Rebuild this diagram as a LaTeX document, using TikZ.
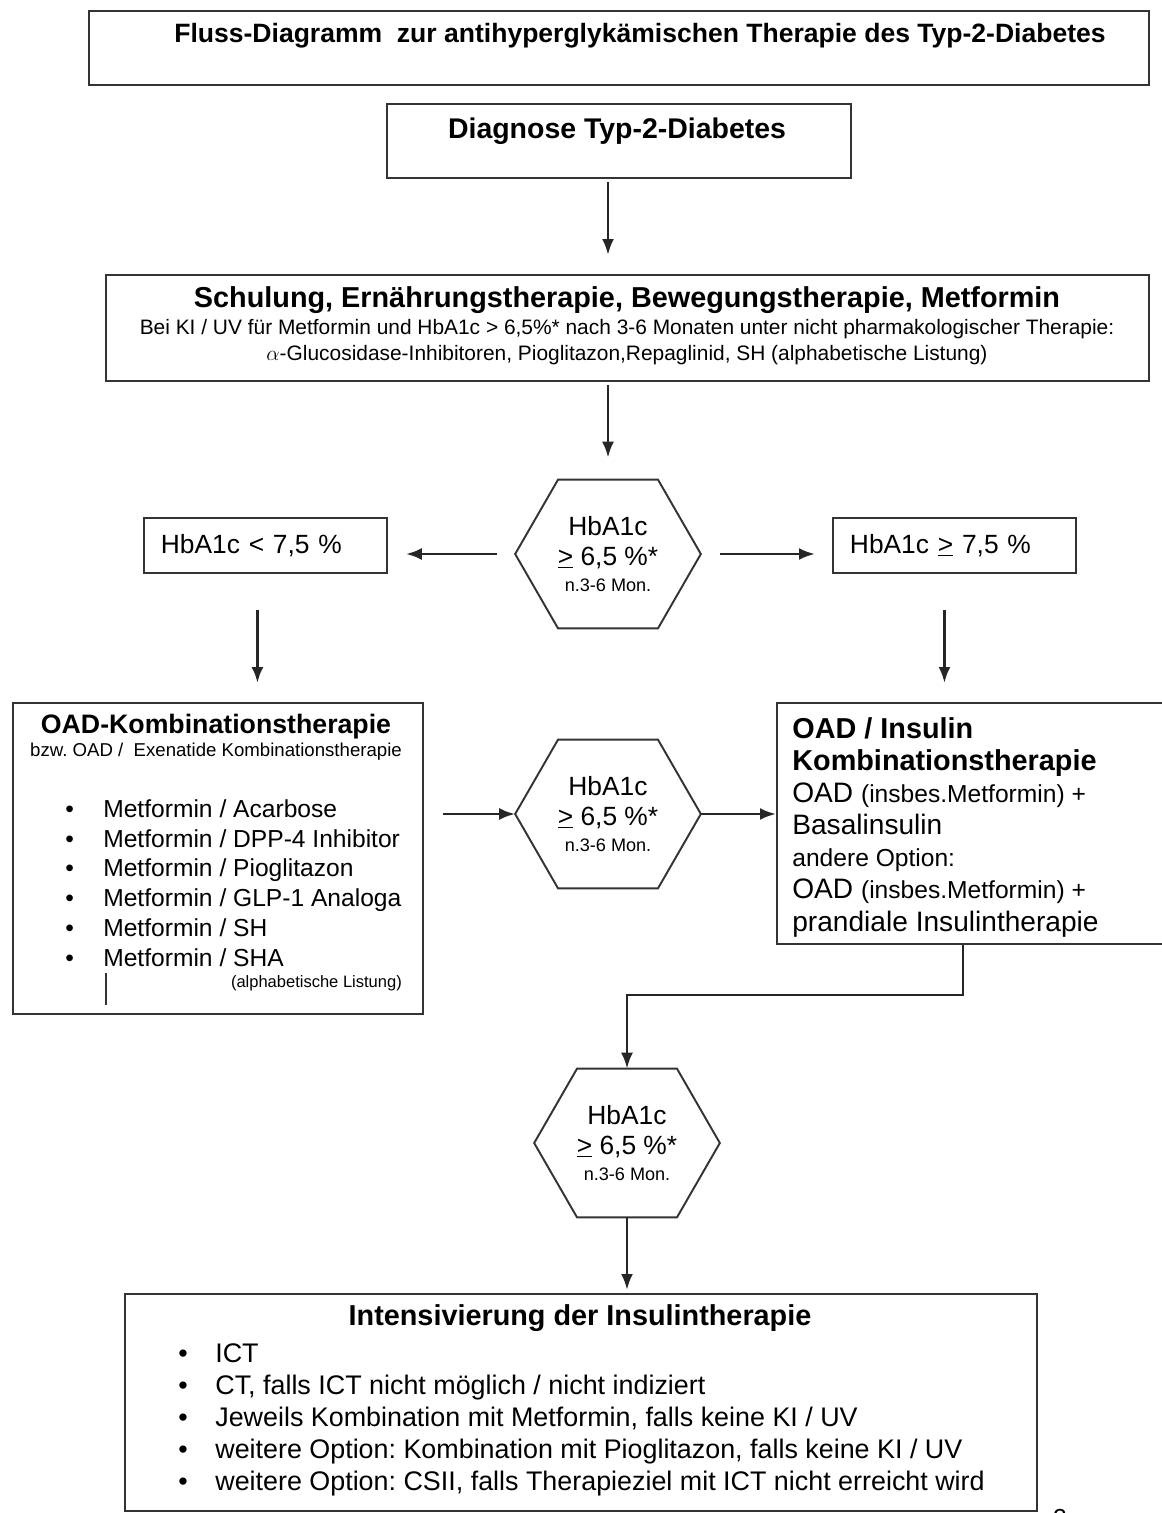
\documentclass[tikz,border=0pt]{standalone}
\usepackage{fontspec}
\setmainfont{Liberation Sans}
\usetikzlibrary{arrows.meta}
\frenchspacing

% font size shortcut
\newcommand{\fsize}[2]{\fontsize{#1}{#2}\selectfont}
% six-sided frame round a hexagon node
\newcommand{\hexframe}[1]{%
  \draw[frame] (#1.west) -- ([xshift=-1cm]#1.north) -- ([xshift=1cm]#1.north)
    -- (#1.east) -- ([xshift=1cm]#1.south) -- ([xshift=-1cm]#1.south) -- cycle;}
\newcommand{\bul}[1]{\makebox[#1][l]{\textbullet}}

\begin{document}
\begin{tikzpicture}[x=0.02cm, y=-0.02cm,
  frame/.style={draw=black!80, line width=1.1pt},
  box/.style={frame, anchor=north west, inner sep=0pt},
  hexbox/.style={minimum width=3.7cm, minimum height=2.96cm, inner sep=0pt,
    align=center, font=\fsize{15}{17}},
  arrow/.style={line width=1.6pt, draw=black!85, -{Latex[length=3.2mm,width=2.4mm]}},
  smallbox/.style={box, minimum width=4.86cm, minimum height=1.1cm,
    text width=4.18cm, inner xsep=0.34cm, align=left, font=\fsize{15}{18}}
]
\useasboundingbox (0,0) rectangle (1161,1513);

% Title
\node[box, minimum width=21.2cm, minimum height=1.48cm] (titlebox) at (88,10) {};
\node[font=\bfseries\fsize{15.1}{18}] (titletext) at (640,36)
  {Fluss-Diagramm\ \ zur antihyperglykämischen Therapie des Typ-2-Diabetes};

% Diagnose
\node[box, minimum width=9.28cm, minimum height=1.48cm] (diagbox) at (386,103) {};
\node[font=\bfseries\fsize{16.2}{19}] (diagtext) at (617,131) {Diagnose Typ-2-Diabetes};

% Basistherapie
\node[box, minimum width=20.86cm, minimum height=2.12cm] (schulbox) at (105,274) {};
\node[font=\bfseries\fsize{16.4}{20}] (schulhead) at (627,300)
  {Schulung, Ernährungstherapie, Bewegungstherapie, Metformin};
\node[font=\fsize{11.9}{14.8}, align=center] (schulsub) at (627,342)
  {Bei KI / UV für Metformin und HbA1c > 6,5\%* nach 3-6 Monaten unter nicht pharmakologischer Therapie:\\
   $\alpha$-Glucosidase-Inhibitoren, Pioglitazon,Repaglinid, SH (alphabetische Listung)};

% first HbA1c check
\node[hexbox] (hexa) at (608,554)
  {HbA1c\\\underline{>} 6,5 \%*\\[-2pt]{\fsize{10.3}{12}n.3-6 Mon.}};
\hexframe{hexa}

\node[smallbox] (lowbox) at (143,517) {HbA1c < 7,5 \%};
\node[smallbox] (highbox) at (832,517) {HbA1c \underline{>} 7,5 \%};

% OAD combination
\node[box, minimum width=8.2cm, minimum height=6.22cm] (oadbox) at (12,702) {};
\node[font=\bfseries\fsize{15.2}{18}] (oadtitle) at (216,727) {OAD-Kombinationstherapie};
\node[font=\fsize{10.6}{13}] (oadsub) at (216,752) {bzw. OAD /\ \ Exenatide Kombinationstherapie};
\node[anchor=north west, inner sep=0pt, align=left, font=\fsize{14}{17}] (oadlist) at (65,799)
  {\bul{0.76cm}Metformin / Acarbose\\
   \bul{0.76cm}Metformin / DPP-4 Inhibitor\\
   \bul{0.76cm}Metformin / Pioglitazon\\
   \bul{0.76cm}Metformin / GLP-1 Analoga\\
   \bul{0.76cm}Metformin / SH\\
   \bul{0.76cm}Metformin / SHA};
\node[anchor=east, font=\fsize{9.4}{11}] (oadnote) at (408,983) {(alphabetische Listung)};
\draw[line width=1pt, black!80] (106,973) -- (106,1005);

% second HbA1c check
\node[hexbox] (hexb) at (608,814)
  {HbA1c\\\underline{>} 6,5 \%*\\[-2pt]{\fsize{10.3}{12}n.3-6 Mon.}};
\hexframe{hexb}

% OAD / Insulin
\node[box, minimum width=8cm, minimum height=4.82cm] (rbox) at (776,702) {};
\node[anchor=north west, inner sep=0pt, align=left, font=\fsize{16}{18.3}] (rtext) at (792,717)
  {{\bfseries\fsize{16.4}{18.3}OAD / Insulin}\\
   {\bfseries\fsize{16.4}{18.3}Kombinationstherapie}\\
   OAD {\fsize{14}{18.3}(insbes.Metformin) +}\\
   Basalinsulin\\
   {\fsize{14}{18.3}andere Option:}\\
   OAD {\fsize{14}{18.3}(insbes.Metformin) +}\\
   prandiale Insulintherapie};

% third HbA1c check
\node[hexbox] (hexc) at (627,1143)
  {HbA1c\\\underline{>} 6,5 \%*\\[-2pt]{\fsize{10.3}{12}n.3-6 Mon.}};
\hexframe{hexc}
\coordinate (elbow) at (963,995);

% Intensivierung
\node[box, minimum width=18.24cm, minimum height=4.34cm] (endbox) at (124,1293) {};
\node[font=\bfseries\fsize{16.4}{20}] (endtitle) at (580,1318) {Intensivierung der Insulintherapie};
\node[anchor=north west, inner sep=0pt, align=left, font=\fsize{15.3}{18.3}] (endlist) at (178,1343)
  {\bul{0.74cm}ICT\\
   \bul{0.74cm}CT, falls ICT nicht möglich / nicht indiziert\\
   \bul{0.74cm}Jeweils Kombination mit Metformin, falls keine KI / UV\\
   \bul{0.74cm}weitere Option: Kombination mit Pioglitazon, falls keine KI / UV\\
   \bul{0.74cm}weitere Option: CSII, falls Therapieziel mit ICT nicht erreicht wird};
\node[anchor=north, font=\fsize{14}{16}] (pagenum) at (1060,1503) {2};

% connectors
\draw[arrow, shorten <=0.06cm, shorten >=0.38cm] (diagbox.south -| hexa) -- (schulbox.north -| hexa);
\draw[arrow, shorten <=0.06cm, shorten >=0.44cm] (schulbox.south -| hexa) -- (hexa.north);
\draw[arrow, shorten <=0.36cm, shorten >=0.36cm] (hexa.west) -- (hexa.west -| lowbox.east);
\draw[arrow, shorten <=0.38cm, shorten >=0.34cm] (hexa.east) -- (hexa.east -| highbox.west);
\draw[arrow, shorten <=0.72cm, shorten >=0.38cm] ([xshift=-0.16cm]lowbox.south)
  -- ([xshift=-0.16cm]lowbox.south |- oadbox.north);
\draw[arrow, shorten <=0.72cm, shorten >=0.38cm] ([xshift=-0.2cm]highbox.south)
  -- ([xshift=-0.2cm]highbox.south |- rbox.north);
\draw[arrow, shorten <=0.38cm] (oadbox.east |- hexb.west) -- (hexb.west);
\draw[arrow] (hexb.east) -- (hexb.east -| rbox.west);
\draw[arrow] (rbox.south -| elbow) -- (elbow) -| (hexc.north);
\draw[arrow, shorten >=0.06cm] (hexc.south) -- (hexc.south |- endbox.north);

\end{tikzpicture}
\end{document}
